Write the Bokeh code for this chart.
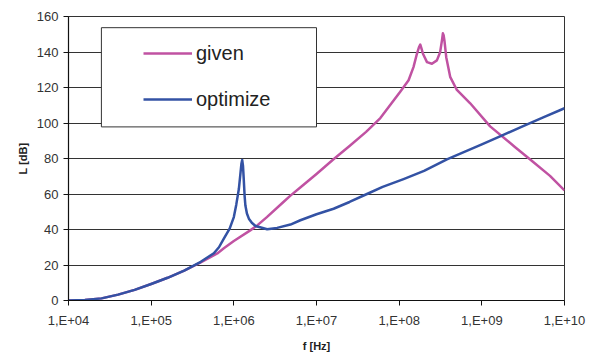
from bokeh.plotting import figure
from bokeh.models import (Range1d, FixedTicker, Legend, LegendItem, BoxAnnotation,
                          ColumnDataSource)
from bokeh.embed import file_html
from bokeh.resources import INLINE

# ---- data ----
given_f = [1e4, 1.58e4, 2.51e4, 3.98e4, 6.31e4, 1e5, 1.58e5, 2.51e5, 3.98e5, 6.31e5,
           7.57e5, 1e6, 1.58e6, 1.92e6, 2.51e6, 3.98e6, 4.84e6, 6.31e6, 1e7, 1.58e7,
           2.51e7, 3.98e7, 5.92e7, 1.03e8, 1.30e8, 1.49e8, 1.64e8, 1.73e8, 1.80e8,
           1.86e8, 1.94e8, 2.17e8, 2.49e8, 2.86e8, 3.13e8, 3.29e8, 3.38e8, 3.45e8,
           3.53e8, 3.71e8, 4.14e8, 4.99e8, 7.23e8, 1.26e9, 2.51e9, 3.98e9, 6.68e9, 1e10]
given_L = [0, 0.3, 1.2, 3.3, 6.0, 9.3, 12.8, 16.8, 21.5, 26.5,
           29.4, 33.5, 39.5, 42.3, 47.0, 55.5, 59.1, 63.5, 71.3, 79.3,
           87.0, 95.0, 102.8, 117.6, 124.1, 131.5, 139.0, 142.5, 144.2,
           142.0, 139.0, 134.3, 133.4, 135.3, 139.9, 146.4, 150.5, 149.5,
           146.4, 137.1, 126.0, 118.6, 111.1, 98.1, 86.5, 78.9, 70.2, 62.0]

opt_f = [1e4, 1.58e4, 2.51e4, 3.98e4, 6.31e4, 1e5, 1.58e5, 2.51e5, 3.98e5, 5.73e5,
         6.61e5, 7.57e5, 8.9e5, 1e6, 1.07e6, 1.15e6, 1.205e6, 1.235e6, 1.262e6,
         1.29e6, 1.318e6, 1.35e6, 1.38e6, 1.44e6, 1.52e6, 1.65e6, 1.83e6, 2.53e6,
         3.34e6, 4.84e6, 6.38e6, 1e7, 1.61e7, 2.51e7, 4.08e7, 6.31e7, 1.13e8, 2e8,
         3.78e8, 1e9, 1.66e9, 3.16e9, 5.62e9, 1e10]
opt_L = [0, 0.3, 1.2, 3.3, 6.0, 9.3, 12.8, 16.8, 21.8, 26.6,
         30.0, 34.9, 40.5, 47.0, 54.0, 62.8, 72.1, 77.0, 79.2,
         76.0, 68.4, 59.0, 53.5, 49.0, 46.1, 43.8, 42.0, 40.1,
         40.9, 42.8, 45.2, 48.6, 51.7, 55.5, 60.0, 64.0, 68.4, 73.0,
         79.5, 88.0, 92.5, 98.2, 103.3, 108.3]

x_ticks = [1e4, 1e5, 1e6, 1e7, 1e8, 1e9, 1e10]
x_tick_labels = ["1,E+04", "1,E+05", "1,E+06", "1,E+07", "1,E+08", "1,E+09", "1,E+10"]
y_ticks = [0, 20, 40, 60, 80, 100, 120, 140, 160]
series_names = ["given", "optimize"]

# ---- styling ----
FONT = "Liberation Sans"
C_GIVEN = "#c052a2"
C_OPT = "#3352a4"
GRID = "#333333"

p = figure(width=591, height=354, x_axis_type="log", output_backend="svg",
           toolbar_location=None,
           x_range=Range1d(1e4, 1e10), y_range=Range1d(0, 160),
           min_border_left=68, min_border_right=27, min_border_top=16,
           min_border_bottom=51)
p.background_fill_color = "white"
p.border_fill_color = "white"
p.outline_line_color = GRID
p.outline_line_width = 1

src_g = ColumnDataSource(dict(f=given_f, L=given_L))
src_o = ColumnDataSource(dict(f=opt_f, L=opt_L))
r_g = p.line("f", "L", source=src_g, line_color=C_GIVEN, line_width=2.5,
             line_join="round")
r_o = p.line("f", "L", source=src_o, line_color=C_OPT, line_width=2.5,
             line_join="round")

# axes
p.xaxis.ticker = FixedTicker(ticks=x_ticks)
p.xaxis.major_label_overrides = {int(t): lab for t, lab in zip(x_ticks, x_tick_labels)}
p.yaxis.ticker = FixedTicker(ticks=y_ticks)
p.xgrid.grid_line_color = None
p.ygrid.grid_line_color = GRID
p.ygrid.grid_line_width = 1

for ax in (p.xaxis[0], p.yaxis[0]):
    ax.axis_line_color = "#111111"
    ax.axis_line_width = 1.2
    ax.major_tick_line_color = "#111111"
    ax.major_tick_in = 0
    ax.major_tick_out = 5
    ax.minor_tick_line_color = None
    ax.major_label_text_font = FONT
    ax.major_label_text_font_size = "13px"
    ax.major_label_text_color = "#333333"
    ax.axis_label_text_font = FONT
    ax.axis_label_text_font_size = "11px"
    ax.axis_label_text_font_style = "bold"
    ax.axis_label_text_color = "#222222"

p.xaxis.axis_label = "f [Hz]"
p.yaxis.axis_label = "L [dB]"
p.xaxis.major_label_standoff = 7
p.yaxis.major_label_standoff = 5
p.xaxis.axis_label_standoff = 9
p.yaxis.axis_label_standoff = 5

# legend frame (white box with dark border)
box = BoxAnnotation(left=2.5e4, right=1.0e7, bottom=97.8, top=153.7,
                    fill_color="white", fill_alpha=1.0,
                    line_color="#333333", line_width=1, line_alpha=1.0)
p.add_layout(box)

legend = Legend(items=[LegendItem(label=series_names[0], renderers=[r_g]),
                       LegendItem(label=series_names[1], renderers=[r_o])],
                location=(75, 189), orientation="vertical",
                padding=0, margin=0, spacing=22,
                glyph_width=49, glyph_height=24, label_height=24,
                label_standoff=4,
                label_text_font=FONT, label_text_font_size="20px",
                label_text_color="#222222",
                border_line_alpha=0, background_fill_alpha=0)
p.add_layout(legend, "center")

open("out.html", "w").write(file_html(p, INLINE))
